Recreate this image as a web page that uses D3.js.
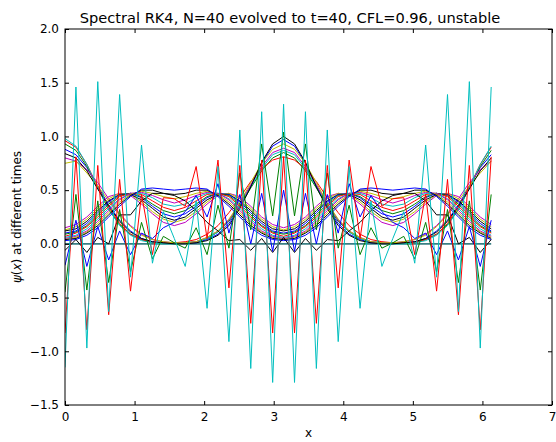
<!DOCTYPE html>
<html>
<head>
<meta charset="utf-8">
<script src="https://cdn.jsdelivr.net/npm/d3@7"></script>
<style>
  body { margin: 0; background: #fff; }
  text { font-family: "DejaVu Sans", sans-serif; }
</style>
</head>
<body>
<svg id="chart" width="556" height="442"></svg>
<script>
// grid points x_j = j*2pi/40
const xGrid = [0,0.157,0.314,0.471,0.628,0.785,0.942,1.100,1.257,1.414,1.571,1.728,1.885,2.042,2.199,2.356,2.513,2.670,2.827,2.985,
  3.142,3.299,3.456,3.613,3.770,3.927,4.084,4.241,4.398,4.555,4.712,4.869,5.027,5.184,5.341,5.498,5.655,5.812,5.969,6.126];

// flat snapshot lying on zero
const flatZero = [0,0,0,0,0,0,0,0,0,0,0,0,0,0,0,0,0,0,0,0,0,0,0,0,0,0,0,0,0,0,0,0,0,0,0,0,0,0,0,0];

// snapshots with the pulse sitting on 0, pi, 2pi
const highBlue = [.88,.83,.71,.54,.36,.22,.12,.05,.02,.01,.01,.01,.01,.04,.09,.19,.34,.54,.75,.91,.97,.91,.75,.54,.34,.19,.09,.04,.01,.01,.01,.01,.02,.05,.12,.22,.36,.54,.71,.83];
const highGreen = [.93,.87,.72,.52,.32,.18,.09,.04,.01,.01,.01,.01,.02,.05,.11,.21,.35,.52,.68,.80,.85,.80,.68,.52,.35,.21,.11,.05,.02,.01,.01,.01,.01,.04,.09,.18,.32,.52,.72,.87];
const highRed = [.96,.90,.74,.53,.34,.19,.09,.04,.01,.01,.01,.02,.04,.09,.17,.29,.43,.58,.70,.78,.81,.78,.70,.58,.43,.29,.17,.09,.04,.02,.01,.01,.01,.04,.09,.19,.34,.53,.74,.90];
const highCyan = [.98,.91,.74,.52,.32,.17,.08,.03,.01,0,0,.01,.02,.05,.11,.22,.36,.53,.70,.83,.87,.83,.70,.53,.36,.22,.11,.05,.02,.01,0,0,.01,.03,.08,.17,.32,.52,.74,.91];
const highMagenta = [.80,.77,.69,.57,.42,.28,.17,.09,.04,.02,.01,.01,.02,.06,.12,.22,.37,.55,.72,.85,.89,.85,.72,.55,.37,.22,.12,.06,.02,.01,.01,.02,.04,.09,.17,.28,.42,.57,.69,.77];
const highYellow = [.75,.77,.66,.54,.40,.27,.16,.08,.04,.02,.01,.01,.02,.06,.12,.23,.38,.57,.75,.88,.93,.88,.75,.57,.38,.23,.12,.06,.02,.01,.01,.02,.04,.08,.16,.27,.40,.54,.66,.77];
const highBlack = [.84,.80,.68,.51,.35,.21,.11,.05,.02,.01,0,0,.01,.03,.08,.17,.33,.53,.76,.93,1.0,.93,.76,.53,.33,.17,.08,.03,.01,0,0,.01,.02,.05,.11,.21,.35,.51,.68,.80];

// snapshots with the pulse split in two halves
const low1 = [.15,.18,.25,.35,.44,.47,.45,.37,.28,.20,.17,.20,.28,.37,.45,.47,.44,.35,.25,.18,.15,.18,.25,.35,.44,.47,.45,.37,.28,.20,.17,.20,.28,.37,.45,.47,.44,.35,.25,.18];
const low2 = [.13,.16,.23,.33,.42,.47,.46,.39,.30,.23,.20,.23,.30,.39,.46,.47,.42,.33,.23,.16,.13,.16,.23,.33,.42,.47,.46,.39,.30,.23,.20,.23,.30,.39,.46,.47,.42,.33,.23,.16];
const low3 = [.12,.14,.21,.31,.40,.46,.46,.41,.33,.25,.22,.25,.33,.41,.46,.46,.40,.31,.21,.14,.12,.14,.21,.31,.40,.46,.46,.41,.33,.25,.22,.25,.33,.41,.46,.46,.40,.31,.21,.14];
const low4 = [.10,.12,.19,.29,.39,.46,.47,.43,.35,.28,.25,.28,.35,.43,.47,.46,.39,.29,.19,.12,.10,.12,.19,.29,.39,.46,.47,.43,.35,.28,.25,.28,.35,.43,.47,.46,.39,.29,.19,.12];
const low5 = [.09,.11,.17,.27,.37,.45,.47,.44,.37,.31,.28,.31,.37,.44,.47,.45,.37,.27,.17,.11,.09,.11,.17,.27,.37,.45,.47,.44,.37,.31,.28,.31,.37,.44,.47,.45,.37,.27,.17,.11];
const low6 = [.07,.10,.16,.25,.35,.44,.47,.46,.40,.34,.31,.34,.40,.46,.47,.44,.35,.25,.16,.10,.07,.10,.16,.25,.35,.44,.47,.46,.40,.34,.31,.34,.40,.46,.47,.44,.35,.25,.16,.10];
const low7 = [.06,.08,.14,.23,.33,.42,.47,.47,.43,.37,.35,.37,.43,.47,.47,.42,.33,.23,.14,.08,.06,.08,.14,.23,.33,.42,.47,.47,.43,.37,.35,.37,.43,.47,.47,.42,.33,.23,.14,.08];
const low8 = [.05,.07,.12,.21,.31,.41,.47,.48,.45,.41,.38,.41,.45,.48,.47,.41,.31,.21,.12,.07,.05,.07,.12,.21,.31,.41,.47,.48,.45,.41,.38,.41,.45,.48,.47,.41,.31,.21,.12,.07];
const low9 = [.04,.06,.11,.19,.29,.39,.46,.49,.47,.44,.42,.44,.47,.49,.46,.39,.29,.19,.11,.06,.04,.06,.11,.19,.29,.39,.46,.49,.47,.44,.42,.44,.47,.49,.46,.39,.29,.19,.11,.06];
const low10 = [.04,.05,.10,.17,.27,.37,.45,.50,.50,.47,.46,.47,.50,.50,.45,.37,.27,.17,.10,.05,.04,.05,.10,.17,.27,.37,.45,.50,.50,.47,.46,.47,.50,.50,.45,.37,.27,.17,.10,.05];
const low11 = [.03,.04,.08,.15,.25,.35,.44,.51,.52,.51,.50,.51,.52,.51,.44,.35,.25,.15,.08,.04,.03,.04,.08,.15,.25,.35,.44,.51,.52,.51,.50,.51,.52,.51,.44,.35,.25,.15,.08,.04];

// last snapshots, grid-scale oscillation growing
const lateBlack = [-.06,.04,-.08,.06,0,.27,.27,.40,.47,.47,.45,.40,.31,.20,.12,.03,.04,-.06,.05,-.08,.06,-.08,.05,-.06,.04,.03,.12,.20,.31,.40,.45,.47,.47,.40,.27,.27,0,.06,-.08,.04];
const lateBlue = [-.20,.22,-.21,.16,-.15,.12,-.10,.10,.05,.15,.20,.30,.45,.25,.56,.10,.46,0,.47,-.07,.50,-.07,.47,0,.46,.10,.56,.25,.45,.30,.20,.15,.05,.10,-.10,.12,-.15,.16,-.21,.22];
const lateGreen = [-.45,.46,-.43,.40,-.36,.32,-.26,.20,-.14,.07,.01,-.04,.15,-.10,.36,-.04,.66,.13,.93,.26,1.04,.26,.93,.13,.66,-.04,.36,-.10,.15,-.04,.01,.07,-.14,.20,-.26,.32,-.36,.40,-.43,.46];
const lateRed = [-.83,.81,-.80,.73,-.66,.60,-.44,.46,-.10,.43,.42,.35,.72,.05,.78,-.41,.73,-.74,.78,-.83,.81,-.83,.78,-.74,.73,-.41,.78,.05,.72,.35,.42,.43,-.10,.46,-.44,.60,-.66,.73,-.80,.81];
const lateCyan = [-1.15,1.46,-.97,1.51,-.63,1.39,-.31,.92,-.18,.30,.05,-.21,.40,-.60,.72,-.91,1.06,-1.16,1.23,-1.29,1.30,-1.29,1.23,-1.16,1.06,-.91,.72,-.60,.40,-.21,.05,.30,-.18,.92,-.31,1.39,-.63,1.51,-.97,1.46];

const xTicks = [0,1,2,3,4,5,6,7];
const yTicks = [-1.5,-1.0,-0.5,0.0,0.5,1.0,1.5,2.0];

const palette = {b:'#0000ff', g:'#008000', r:'#ff0000', c:'#00bfbf', m:'#bf00bf', y:'#bfbf00', k:'#000000', z:'#3a7f84'};

const series = [
  [flatZero,'z'],
  [highBlue,'b'],[highGreen,'g'],[highRed,'r'],[highCyan,'c'],[highMagenta,'m'],[highYellow,'y'],[highBlack,'k'],
  [low1,'m'],[low2,'y'],[low3,'k'],[low4,'b'],[low5,'g'],[low6,'r'],[low7,'c'],[low8,'m'],[low9,'y'],[low10,'k'],[low11,'b'],
  [lateBlack,'k'],[lateBlue,'b'],[lateGreen,'g'],[lateRed,'r'],[lateCyan,'c']
];

const plotL = 65, plotR = 552, plotT = 29, plotB = 405;
const svg = d3.select('#chart');

const x = d3.scaleLinear().domain([0, 7]).range([plotL, plotR]);
const y = d3.scaleLinear().domain([-1.5, 2]).range([plotB, plotT]);

svg.append('defs').append('clipPath').attr('id', 'plotclip')
  .append('rect').attr('x', plotL).attr('y', plotT).attr('width', plotR - plotL).attr('height', plotB - plotT);

var line = d3.line()
  .x(function(d, i) { return x(xGrid[i]); })
  .y(function(d) { return y(d); });

var lines = svg.append('g').attr('clip-path', 'url(#plotclip)');
series.forEach(function(s) {
  lines.append('path')
    .attr('d', line(s[0]))
    .attr('fill', 'none')
    .attr('stroke', palette[s[1]])
    .attr('stroke-width', s[1] === 'z' ? 1.6 : 1);
});

// axes, ticks pointing in on all four sides
var fmt = function(v) { return d3.format('.1f')(v).replace('-', '\u2212'); };

svg.append('g').attr('transform', 'translate(0,' + plotB + ')')
  .call(d3.axisBottom(x).tickValues(xTicks).tickSize(-4).tickSizeOuter(0).tickPadding(7).tickFormat(d3.format('d')));
svg.append('g').attr('transform', 'translate(0,' + plotT + ')')
  .call(d3.axisTop(x).tickValues(xTicks).tickSize(-4).tickSizeOuter(0).tickFormat(''));
svg.append('g').attr('transform', 'translate(' + plotL + ',0)')
  .call(d3.axisLeft(y).tickValues(yTicks).tickSize(-4).tickSizeOuter(0).tickPadding(6).tickFormat(fmt));
svg.append('g').attr('transform', 'translate(' + plotR + ',0)')
  .call(d3.axisRight(y).tickValues(yTicks).tickSize(-4).tickSizeOuter(0).tickFormat(''));

svg.selectAll('.tick text').attr('font-size', 12).attr('fill', '#000')
  .style('font-family', '"DejaVu Sans", sans-serif');
svg.selectAll('.domain').remove();
svg.selectAll('.tick line').attr('stroke', '#000');

svg.append('rect')
  .attr('x', plotL).attr('y', plotT).attr('width', plotR - plotL).attr('height', plotB - plotT)
  .attr('fill', 'none').attr('stroke', '#000').attr('stroke-width', 1);

svg.append('text')
  .attr('x', 290).attr('y', 23)
  .attr('text-anchor', 'middle').attr('font-size', 14.6)
  .text('Spectral RK4, N=40 evolved to t=40, CFL=0.96, unstable');

svg.append('text')
  .attr('x', (plotL + plotR) / 2).attr('y', 437)
  .attr('text-anchor', 'middle').attr('font-size', 12)
  .text('x');

var yl = svg.append('text')
  .attr('transform', 'translate(21,' + ((plotT + plotB) / 2) + ') rotate(-90)')
  .attr('text-anchor', 'middle').attr('font-size', 12);
yl.append('tspan').attr('font-style', 'italic').text('\u03c8');
yl.append('tspan').text('(');
yl.append('tspan').attr('font-style', 'italic').text('x');
yl.append('tspan').text(') at different times');
</script>
</body>
</html>
